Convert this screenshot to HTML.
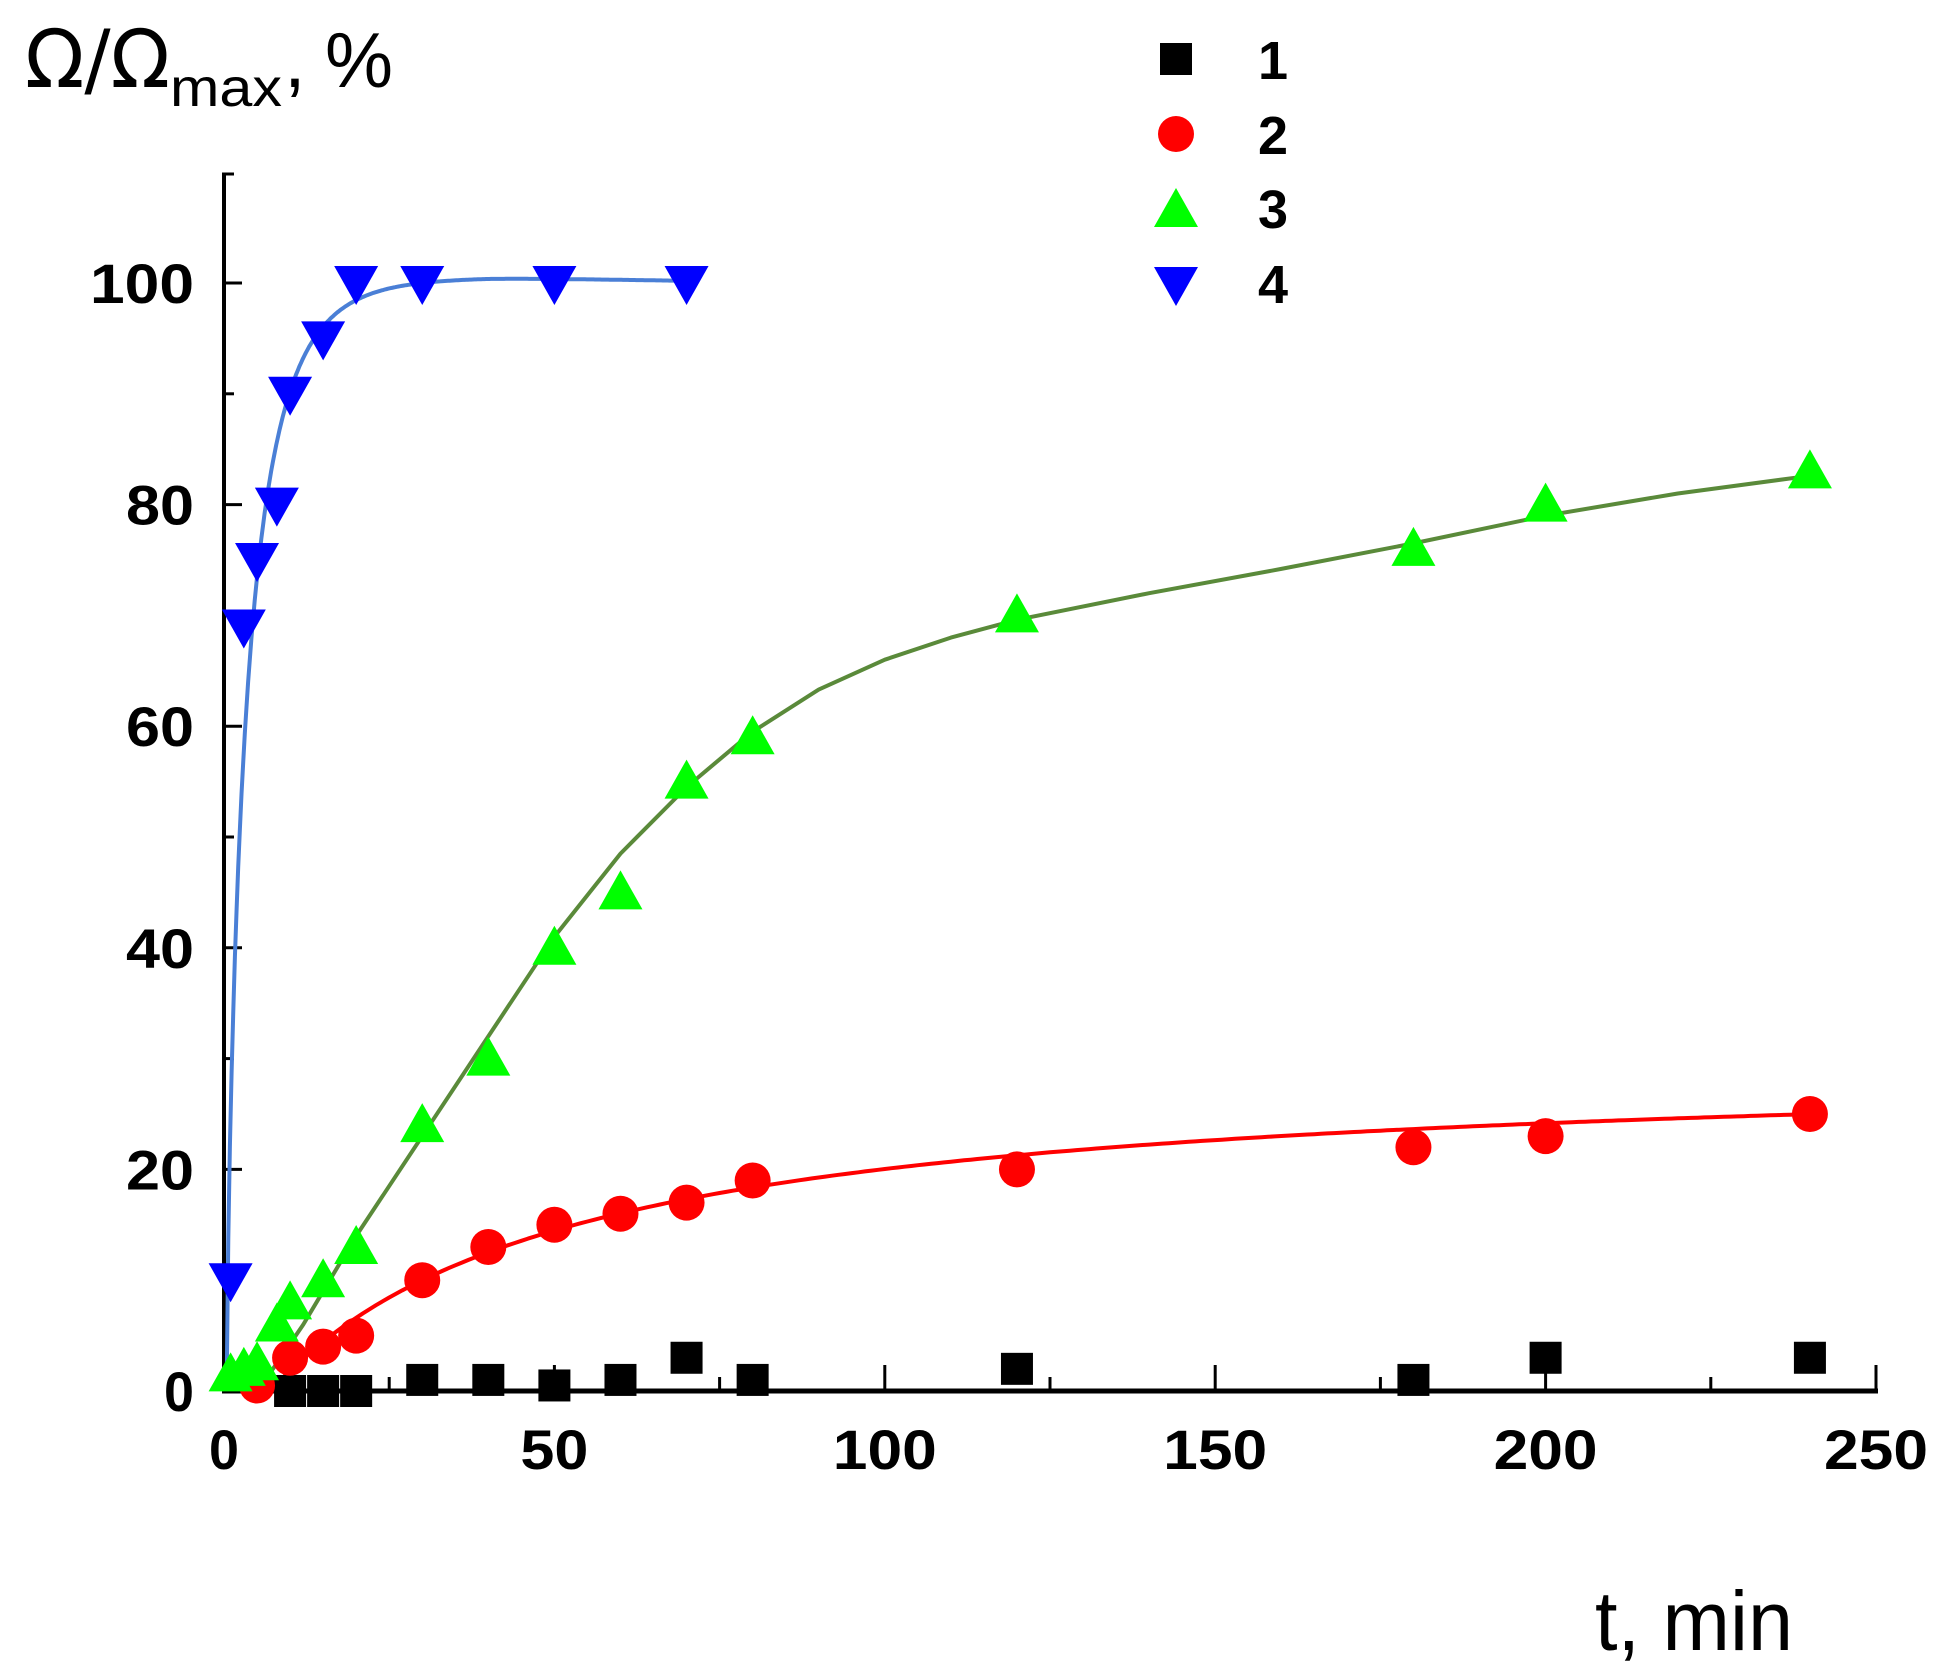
<!DOCTYPE html>
<html><head><meta charset="utf-8"><style>html,body{margin:0;padding:0;background:#fff}svg{display:block}</style></head>
<body>
<svg id="s" width="1939" height="1678" viewBox="0 0 1939 1678" xmlns="http://www.w3.org/2000/svg" font-family="Liberation Sans, Arial, sans-serif">
<text x="25" y="87" font-size="80" font-family="DejaVu Sans, sans-serif" textLength="145" lengthAdjust="spacingAndGlyphs">Ω/Ω</text>
<text x="170" y="106" font-size="54" textLength="112" lengthAdjust="spacingAndGlyphs">max</text>
<text x="284" y="87" font-size="78">,</text>
<text x="325" y="87" font-size="78" textLength="68" lengthAdjust="spacingAndGlyphs">%</text>
<text x="1595" y="1650" font-size="84" textLength="198" lengthAdjust="spacingAndGlyphs">t, min</text>
<g id="g"></g>
</svg>
<script>
const X=t=>224+t*6.608, Y=v=>1391-v*11.08;
let h="";
h+=`<line x1="224" y1="173" x2="224" y2="1393" stroke="#000" stroke-width="4"/>`;
h+=`<line x1="222" y1="1391" x2="1878" y2="1391" stroke="#000" stroke-width="5"/>`;
h+=`<line x1="222" y1="174" x2="234" y2="174" stroke="#000" stroke-width="3"/>`;
for(let v=0;v<=100;v+=10){const maj=v%20==0;h+=`<line x1="224" y1="${Y(v)}" x2="${224+(maj?18:10)}" y2="${Y(v)}" stroke="#000" stroke-width="3"/>`;
 if(maj)h+=`<text x="194" y="${Y(v)+20}" font-size="56" text-anchor="end" font-weight="bold" textLength="${v==100?104:(v==0?30:68)}" lengthAdjust="spacingAndGlyphs">${v}</text>`;}
for(let t=0;t<=250;t+=25){const maj=t%50==0;h+=`<line x1="${X(t)}" y1="1391" x2="${X(t)}" y2="${1391-(maj?26:14)}" stroke="#000" stroke-width="3"/>`;
 if(maj)h+=`<text x="${X(t)}" y="1469" font-size="56" text-anchor="middle" font-weight="bold" textLength="${t>=100?104:(t==0?30:68)}" lengthAdjust="spacingAndGlyphs">${t}</text>`;}
function curve(pts,c){return `<polyline fill="none" stroke="${c}" stroke-width="4" stroke-linejoin="round" points="${pts.map(p=>X(p[0]).toFixed(1)+','+Y(p[1]).toFixed(1)).join(' ')}"/>`;}
let b=[];for(let t=0.4;t<=70;t+=0.25){b.push([t,100.5*(1-Math.exp(-Math.pow((t-0.4)/3.2,0.75)))-(t>40?(t-40)*0.01:0)]);}
h+=curve(b,"#4a7fd6");
h+=curve([[5,0],[8,2.5],[12,6],[16,10],[20,14],[30,23],[40,32],[50,41],[60,48.5],[70,54.5],[80,59.5],[90,63.3],[100,66],[110,68],[120,69.6],[140,72],[160,74.2],[180,76.5],[200,79],[220,81],[240,82.6]],"#5a8a3a");
let r=[];for(let t=7;t<=240;t+=1){const u=t-7;r.push([t,29.9*u/(45.8+u)]);}
h+=curve(r,"#f00");
const sq=(t,v)=>`<rect x="${X(t)-16}" y="${Y(v)-16}" width="32" height="32" fill="#000"/>`;
const ci=(t,v)=>`<circle cx="${X(t)}" cy="${Y(v)}" r="18" fill="#f00"/>`;
const up=(x,y)=>`<polygon points="${x-22},${y+17} ${x+22},${y+17} ${x},${y-22}" fill="#0f0"/>`;
const dn=(x,y)=>`<polygon points="${x-22},${y-17} ${x+22},${y-17} ${x},${y+22}" fill="#00f"/>`;
[[10,0],[15,0],[20,0],[30,1],[40,1],[50,0.5],[60,1],[70,3],[80,1],[120,2],[180,1],[200,3],[240,3]].forEach(p=>h+=sq(...p));
[[5,0.5],[10,3],[15,4],[20,5],[30,10],[40,13],[50,15],[60,16],[70,17],[80,19],[120,20],[180,22],[200,23],[240,25]].forEach(p=>h+=ci(...p));
[[1,1.5],[3,2],[5,2.5],[8,6],[10,8],[15,10],[20,13],[30,24],[40,30],[50,40],[60,45],[70,55],[80,59],[120,70],[180,76],[200,80],[240,83]].forEach(p=>h+=up(X(p[0]),Y(p[1])));
[[1,10],[3,69],[5,75],[8,80],[10,90],[15,95],[20,100],[30,100],[50,100],[70,100]].forEach(p=>h+=dn(X(p[0]),Y(p[1])));
h+=`<rect x="1160" y="43" width="32" height="32" fill="#000"/>`;
h+=`<circle cx="1176" cy="134" r="18" fill="#f00"/>`;
h+=up(1176,210);h+=dn(1176,284);
["1","2","3","4"].forEach((s,i)=>h+=`<text x="1258" y="${[79,154,228,303][i]}" font-size="54" font-weight="bold">${s}</text>`);
document.getElementById("g").innerHTML=h;
</script>
</body></html>
